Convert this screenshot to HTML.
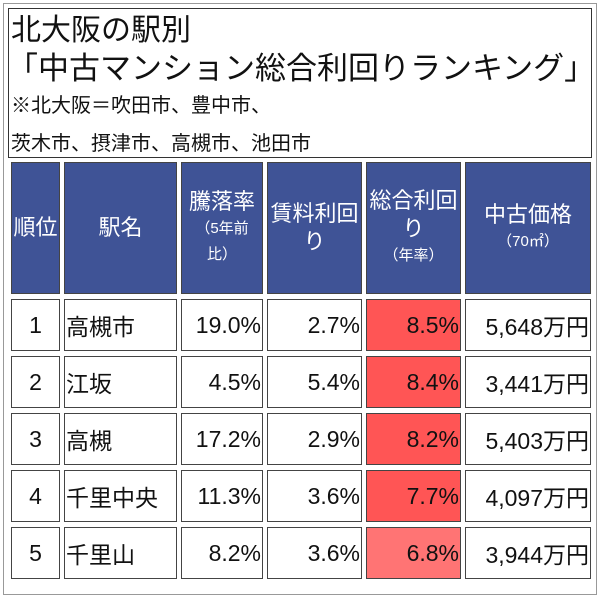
<!DOCTYPE html>
<html><head><meta charset="utf-8"><style>
body{margin:0;width:600px;height:583px;background:#fff;overflow:hidden;font-family:"Liberation Sans","Noto Sans CJK JP",sans-serif;}
#outer{position:absolute;left:3px;top:3px;width:592px;height:590px;border:1px solid #999;}
#title{position:absolute;left:8px;top:8px;width:582px;height:148px;border:1px solid #333;}
.t{position:absolute;left:2px;white-space:nowrap;color:#111;line-height:1;}
.c{position:absolute;box-sizing:border-box;border:1px solid #444;display:flex;align-items:center;}
.h{background:#3f5396;color:#fff;justify-content:center;text-align:center;flex-direction:column;font-size:22px;line-height:28px;}
.h small{font-size:15px;line-height:26px;}
.d{background:#fff;font-size:23px;color:#111;}
</style></head><body>
<div id="outer"></div>
<div id="title">
<div class="t" style="top:7px;font-size:30px">北大阪の駅別</div>
<div class="t" style="top:44px;font-size:31px;left:-2px">「中古マンション総合利回りランキング」</div>
<div class="t" style="top:87px;font-size:20px">※北大阪＝吹田市、豊中市、</div>
<div class="t" style="top:125px;font-size:20px">茨木市、摂津市、高槻市、池田市</div>
</div>
<div id="tbl"></div>
<script>
const ranks=["1","2","3","4","5"];
const stations=["高槻市","江坂","高槻","千里中央","千里山"];
const appreciation=["19.0%","4.5%","17.2%","11.3%","8.2%"];
const rentYield=["2.7%","5.4%","2.9%","3.6%","3.6%"];
const totalYield=["8.5%","8.4%","8.2%","7.7%","6.8%"];
const prices=["5,648万円","3,441万円","5,403万円","4,097万円","3,944万円"];
const colX=[11,64,181,267,366,465,595];
const headers=['順位','駅名','騰落率<small>（5年前<br>比）</small>','賃料利回<br>り','総合利回<br>り<small>（年率）</small>','中古価格<small>（70㎡）</small>'];
const tbl=document.getElementById('tbl');
function cell(x,y,w,h,cls,html,name){const d=document.createElement('div');d.className='c '+cls;
d.style.left=x+'px';d.style.top=y+'px';d.style.width=w+'px';d.style.height=h+'px';d.innerHTML=html;


tbl.appendChild(d);return d;}
headers.forEach((t,i)=>{cell(colX[i],162,colX[i+1]-colX[i]-4,132,'h',t,'header-cell');});
ranks.forEach((r,j)=>{const y=299+j*57;const cols=[r,stations[j],appreciation[j],rentYield[j],totalYield[j],prices[j]];
cols.forEach((v,i)=>{const d=cell(colX[i],y,colX[i+1]-colX[i]-4,52,'d',v,'data-cell');
d.style.justifyContent=i==0?'center':(i==1?'flex-start':'flex-end');d.style.padding='0 1px';
if(i==4){d.style.background=j==4?'#ff7474':'#ff5555';}});});
</script>
</body></html>
